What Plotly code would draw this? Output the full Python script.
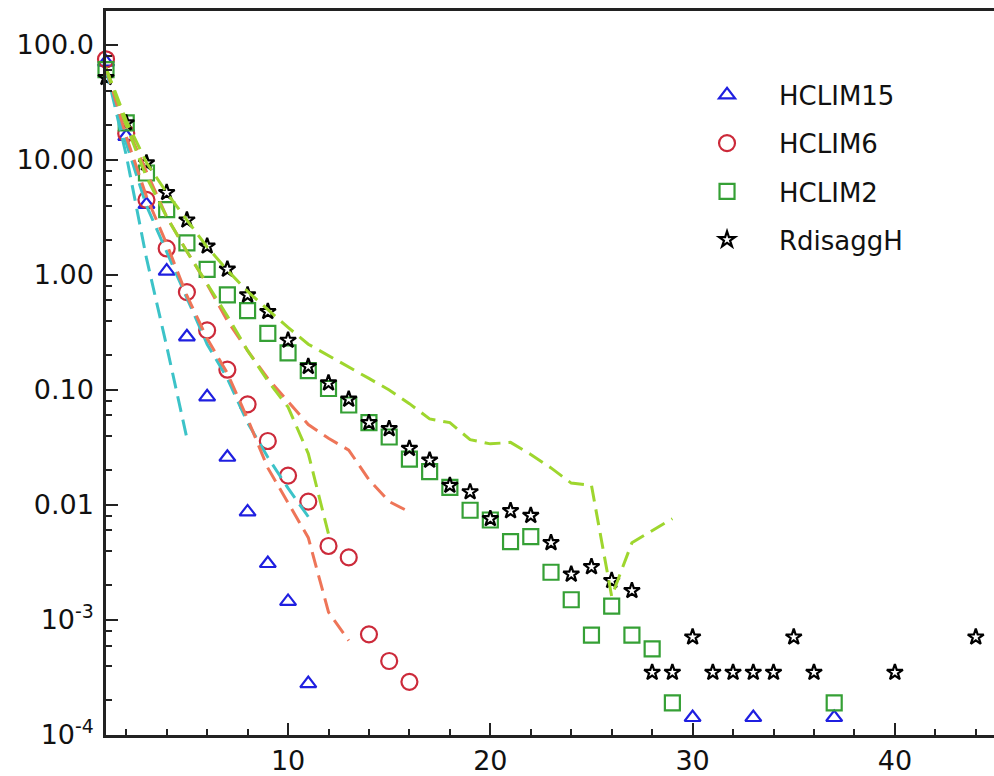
import plotly.graph_objects as go

# ---- marker series (x = class index, y = frequency in %) ----
hclim15_x = [1, 2, 3, 4, 5, 6, 7, 8, 9, 10, 11, 30, 33, 37]
hclim15_y = [71, 16, 4.1, 1.08, 0.29, 0.087, 0.026, 0.0087, 0.0031, 0.00145, 0.00028,
             0.000142, 0.000142, 0.000142]

hclim6_x = [1, 2, 3, 4, 5, 6, 7, 8, 9, 10, 11, 12, 13, 14, 15, 16]
hclim6_y = [75, 17, 4.5, 1.7, 0.71, 0.33, 0.15, 0.075, 0.036, 0.018, 0.0107, 0.0044,
            0.0035, 0.00075, 0.00044, 0.00029]

hclim2_x = [1, 2, 3, 4, 5, 6, 7, 8, 9, 10, 11, 12, 13, 14, 15, 16, 17, 18, 19, 20,
            21, 22, 23, 24, 25, 26, 27, 28, 29, 37]
hclim2_y = [61, 21, 7.7, 3.7, 1.9, 1.12, 0.67, 0.49, 0.31, 0.21, 0.147, 0.103, 0.074,
            0.052, 0.039, 0.025, 0.0195, 0.0142, 0.009, 0.0074, 0.0048, 0.0053, 0.0026,
            0.0015, 0.00074, 0.00132, 0.00074, 0.00056, 0.00019, 0.00019]

rdisagg_x = [1, 2, 3, 4, 5, 6, 7, 8, 9, 10, 11, 12, 13, 14, 15, 16, 17, 18, 19, 20,
             21, 22, 23, 24, 25, 26, 27, 28, 29, 30, 31, 32, 33, 34, 35, 36, 40, 44]
rdisagg_y = [52, 21, 9.4, 5.2, 3.0, 1.78, 1.12, 0.67, 0.48, 0.27, 0.16, 0.115, 0.083,
             0.052, 0.046, 0.031, 0.0245, 0.0148, 0.013, 0.0076, 0.0089, 0.0081, 0.0047,
             0.0025, 0.0029, 0.0022, 0.0018, 0.00035, 0.00035, 0.00071, 0.00035, 0.00035,
             0.00035, 0.00035, 0.00071, 0.00035, 0.00035, 0.00071]

# ---- dashed reference curves ----
cyan_a_y = [63, 11, 1.4, 0.24, 0.038]
cyan_b_y = [63, 14, 4.0, 1.6, 0.63, 0.25, 0.126, 0.052, 0.026, 0.014, 0.0079]
salmon_a_y = [63, 16, 4.8, 1.86, 0.66, 0.28, 0.14, 0.056, 0.021, 0.0105, 0.0052,
              0.00117, 0.00066]
salmon_b_y = [63, 20, 7.9, 3.2, 1.6, 0.83, 0.4, 0.22, 0.126, 0.079, 0.05, 0.038, 0.03,
              0.0166, 0.0107, 0.0087]
lime_a_y = [63, 20, 7.1, 3.2, 1.6, 0.83, 0.44, 0.22, 0.12, 0.071, 0.028, 0.0056]
lime_b_y = [63, 22, 9.5, 5.2, 3.0, 1.75, 1.1, 0.72, 0.5, 0.35, 0.25, 0.2, 0.16, 0.126,
            0.1, 0.076, 0.056, 0.052, 0.037, 0.034, 0.035, 0.0275, 0.021, 0.0155, 0.0148,
            0.0016, 0.0047, 0.006, 0.0076]

ytick_vals = [100, 10, 1, 0.1, 0.01, 0.001, 0.0001]
ytick_text = ["100.0", "10.00", "1.00", "0.10", "0.01", "10<sup>-3</sup>", "10<sup>-4</sup>"]
xtick_vals = [10, 20, 30, 40]

FONT = "DejaVu Sans"

fig = go.Figure()

marker_series = [
    ("HCLIM15", hclim15_x, hclim15_y, "triangle-up-open", "#1f1fe0", 14),
    ("HCLIM6", hclim6_x, hclim6_y, "circle-open", "#cc2a3a", 16),
    ("HCLIM2", hclim2_x, hclim2_y, "square-open", "#35a035", 15),
    ("RdisaggH", rdisagg_x, rdisagg_y, "star-open", "#000000", 12),
]
for name, xs, ys, sym, col, size in marker_series:
    fig.add_trace(go.Scatter(
        x=xs, y=ys, mode="markers", name=name, legendgroup=name,
        marker=dict(symbol=sym, size=size, color=col, line=dict(width=2.2, color=col)),
        cliponaxis=False,
    ))

line_series = [
    (cyan_a_y, "#3cc3c8"), (cyan_b_y, "#3cc3c8"),
    (salmon_a_y, "#ee7558"), (salmon_b_y, "#ee7558"),
    (lime_a_y, "#9ed62e"), (lime_b_y, "#9ed62e"),
]
for ys, col in line_series:
    fig.add_trace(go.Scatter(
        x=list(range(1, len(ys) + 1)), y=ys, mode="lines", showlegend=False,
        line=dict(color=col, width=3, dash="16px,8px"), hoverinfo="skip",
    ))

minor_vals = [m * 10.0 ** k for k in range(-4, 3) for m in (2, 4, 6, 8)]

fig.update_layout(
    width=994, height=776,
    margin=dict(l=106, r=0, t=11, b=38),
    paper_bgcolor="white", plot_bgcolor="white",
    font=dict(family=FONT, size=26, color="#111111"),
    showlegend=True,
    legend=dict(
        x=0.6408, y=0.9166, xanchor="left", yanchor="top",
        bgcolor="rgba(0,0,0,0)", borderwidth=0,
        font=dict(family=FONT, size=26, color="#111111"),
        tracegroupgap=11.5, itemwidth=94,
    ),
    xaxis=dict(
        range=[1, 44.9], showgrid=False, zeroline=False,
        showline=True, linecolor="#222222", linewidth=2.5, mirror=True,
        ticks="inside", ticklen=12, tickwidth=2, tickcolor="#222222",
        tickvals=xtick_vals,
        minor=dict(dtick=2, tick0=0, ticks="inside", ticklen=6, tickwidth=1.5,
                   tickcolor="#222222", showgrid=False),
        tickfont=dict(family=FONT, size=27, color="#111111"),
    ),
    yaxis=dict(
        type="log", range=[-4, 2.295], showgrid=False, zeroline=False,
        showline=True, linecolor="#222222", linewidth=2.5, mirror=False,
        ticks="inside", ticklen=12, tickwidth=2, tickcolor="#222222",
        tickvals=ytick_vals, ticktext=ytick_text, ticklabelstandoff=4,
        minor=dict(tickvals=minor_vals, ticks="inside", ticklen=6, tickwidth=1.5,
                   tickcolor="#222222", showgrid=False),
        tickfont=dict(family=FONT, size=27, color="#111111"),
    ),
)

fig.write_html("out.html")
